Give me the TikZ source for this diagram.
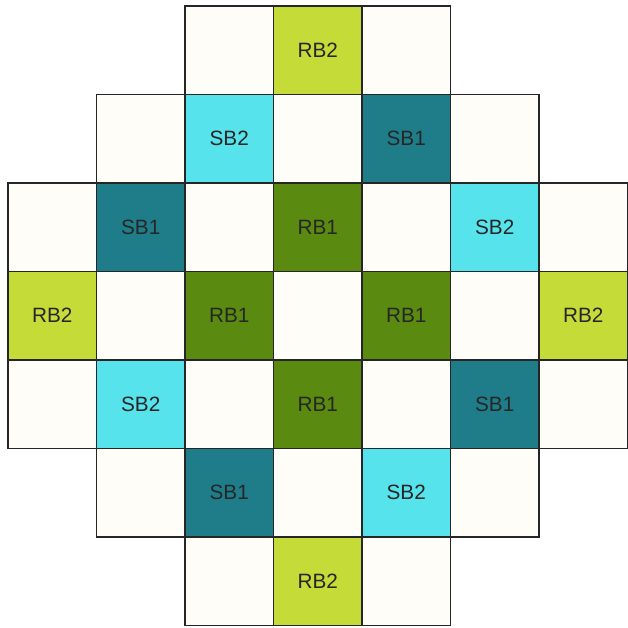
\documentclass[tikz,border=0pt]{standalone}
\usepackage{fontspec}
\setmainfont{Liberation Sans}
\usetikzlibrary{positioning}

\definecolor{cellcream}{HTML}{FFFDF7}
\definecolor{rbone}{HTML}{5B8A10}
\definecolor{rbtwo}{HTML}{C5DB38}
\definecolor{sbone}{HTML}{1F7D8A}
\definecolor{sbtwo}{HTML}{57E3EC}

\begin{document}
\begin{tikzpicture}[
    x=1.5cm, y=1.5cm,
    cell/.style   = {draw=black!85, line width=0.75pt, fill=cellcream,
                     minimum size=1.5cm, inner sep=0pt, outer sep=0pt,
                     font=\fontsize{10}{12}\selectfont, text=black!85},
    rbA/.style    = {cell, fill=rbone},
    rbB/.style    = {cell, fill=rbtwo},
    sbA/.style    = {cell, fill=sbone},
    sbB/.style    = {cell, fill=sbtwo}
]
\useasboundingbox (-0.0904,0.0678) rectangle (7.0056,-7.0282);

% =========================================================
% ROW 0
% =========================================================
\node[cell] (r0c2) at (2.5,-0.5) {};
\node[rbB]  (r0c3) at (3.5,-0.5) {RB2};
\node[cell] (r0c4) at (4.5,-0.5) {};

% =========================================================
% ROW 1
% =========================================================
\node[cell] (r1c1) at (1.5,-1.5) {};
\node[sbB]  (r1c2) at (2.5,-1.5) {SB2};
\node[cell] (r1c3) at (3.5,-1.5) {};
\node[sbA]  (r1c4) at (4.5,-1.5) {SB1};
\node[cell] (r1c5) at (5.5,-1.5) {};

% =========================================================
% ROW 2
% =========================================================
\node[cell] (r2c0) at (0.5,-2.5) {};
\node[sbA]  (r2c1) at (1.5,-2.5) {SB1};
\node[cell] (r2c2) at (2.5,-2.5) {};
\node[rbA]  (r2c3) at (3.5,-2.5) {RB1};
\node[cell] (r2c4) at (4.5,-2.5) {};
\node[sbB]  (r2c5) at (5.5,-2.5) {SB2};
\node[cell] (r2c6) at (6.5,-2.5) {};

% =========================================================
% ROW 3 (MIDDLE)
% =========================================================
\node[rbB]  (r3c0) at (0.5,-3.5) {RB2};
\node[cell] (r3c1) at (1.5,-3.5) {};
\node[rbA]  (r3c2) at (2.5,-3.5) {RB1};
\node[cell] (r3c3) at (3.5,-3.5) {};
\node[rbA]  (r3c4) at (4.5,-3.5) {RB1};
\node[cell] (r3c5) at (5.5,-3.5) {};
\node[rbB]  (r3c6) at (6.5,-3.5) {RB2};

% =========================================================
% ROW 4
% =========================================================
\node[cell] (r4c0) at (0.5,-4.5) {};
\node[sbB]  (r4c1) at (1.5,-4.5) {SB2};
\node[cell] (r4c2) at (2.5,-4.5) {};
\node[rbA]  (r4c3) at (3.5,-4.5) {RB1};
\node[cell] (r4c4) at (4.5,-4.5) {};
\node[sbA]  (r4c5) at (5.5,-4.5) {SB1};
\node[cell] (r4c6) at (6.5,-4.5) {};

% =========================================================
% ROW 5
% =========================================================
\node[cell] (r5c1) at (1.5,-5.5) {};
\node[sbA]  (r5c2) at (2.5,-5.5) {SB1};
\node[cell] (r5c3) at (3.5,-5.5) {};
\node[sbB]  (r5c4) at (4.5,-5.5) {SB2};
\node[cell] (r5c5) at (5.5,-5.5) {};

% =========================================================
% ROW 6
% =========================================================
\node[cell] (r6c2) at (2.5,-6.5) {};
\node[rbB]  (r6c3) at (3.5,-6.5) {RB2};
\node[cell] (r6c4) at (4.5,-6.5) {};

\end{tikzpicture}
\end{document}
